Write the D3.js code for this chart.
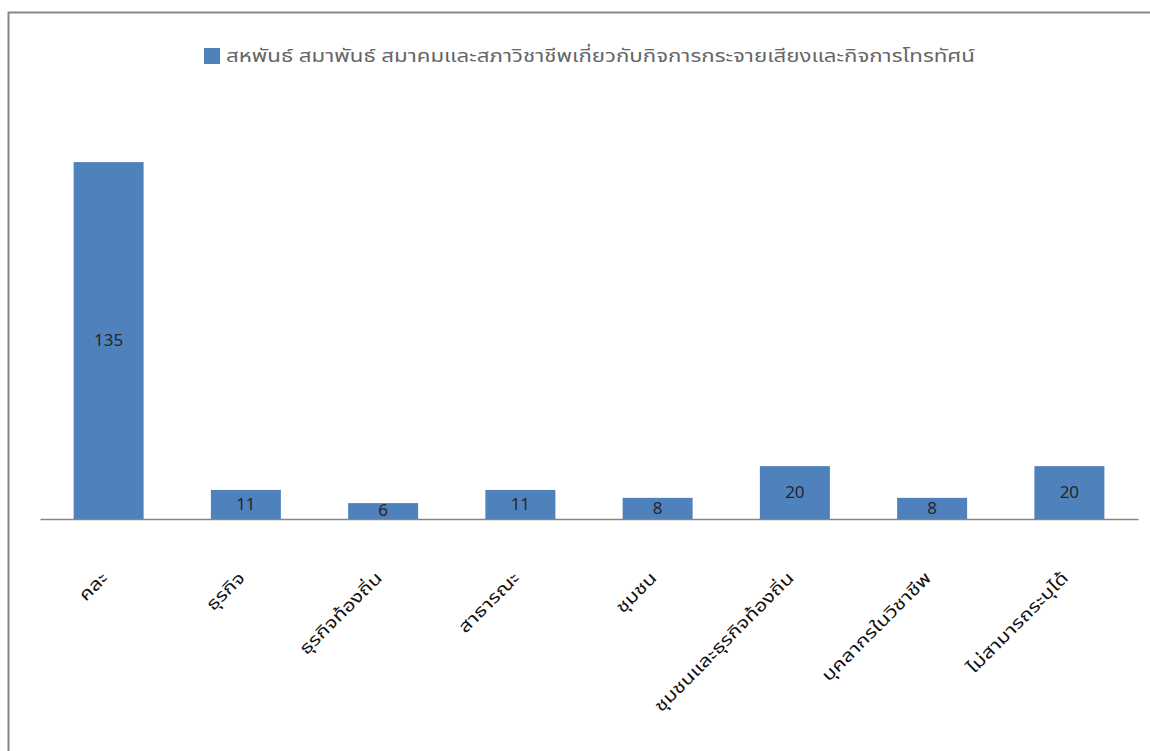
<!DOCTYPE html>
<html><head><meta charset="utf-8">
<script src="https://cdn.jsdelivr.net/npm/d3@7/dist/d3.min.js"></script>
<style>body{margin:0;background:#fff}svg{display:block}</style>
</head><body>
<svg id="c" width="1150" height="751"></svg>
<script>
const categories = ["คละ","ธุรกิจ","ธุรกิจท้องถิ่น","สาธารณะ","ชุมชน","ชุมชนและธุรกิจท้องถิ่น","บุคลากรในวิชาชีพ","ไม่สามารถระบุได้"];
const values = [135,11,6,11,8,20,8,20];
const seriesName = "สหพันธ์ สมาพันธ์ สมาคมและสภาวิชาชีพเกี่ยวกับกิจการกระจายเสียงและกิจการโทรทัศน์";

const svg = d3.select("#c");
const font = "Tahoma, 'Noto Sans Thai', 'Noto Sans', sans-serif";
svg.append("rect").attr("x",8.5).attr("y",12.5).attr("width",1160).attr("height",760)
  .attr("fill","#fff").attr("stroke","#878787").attr("stroke-width",2);

const x = d3.scaleBand().domain(categories).range([40,1138]).paddingInner(0.49).paddingOuter(0.245);
const y = d3.scaleLinear().domain([0,160]).range([519,96]);

svg.selectAll(".bar").data(values).join("rect")
  .attr("x",(d,i)=>x(categories[i])).attr("width",x.bandwidth())
  .attr("y",d=>y(d)).attr("height",d=>y(0)-y(d)).attr("fill","#4f81bd");

svg.selectAll(".lbl").data(values).join("text")
  .attr("x",(d,i)=>x(categories[i])+x.bandwidth()/2)
  .attr("y",d=>(y(d)+y(0))/2).attr("dy","0.3em").attr("text-anchor","middle")
  .attr("font-family",font).attr("font-size",17).attr("fill","#262626").text(d=>d);

const ax = svg.append("g").attr("transform","translate(0,519)")
  .call(d3.axisBottom(x).tickSize(0).tickSizeOuter(0).tickPadding(0));
ax.select(".domain").attr("stroke","#868686").attr("stroke-width",1.3);
ax.selectAll(".tick text").attr("font-family",font).attr("font-size",17).attr("fill","#111")
  .attr("text-anchor","end").attr("dy",0).attr("y",0)
  .attr("transform","translate(0,60) rotate(-45)")
  .each(function(){ const L=this.getComputedTextLength(); d3.select(this).attr("textLength",L*1.25).attr("lengthAdjust","spacingAndGlyphs"); });

const lg = svg.append("g");
lg.append("rect").attr("x",204).attr("y",48).attr("width",16).attr("height",16).attr("fill","#4f81bd");
lg.append("text").attr("x",226).attr("y",62).attr("font-family",font).attr("font-size",18)
  .attr("fill","#666").attr("textLength",749).attr("lengthAdjust","spacingAndGlyphs").text(seriesName);
</script>
</body></html>
